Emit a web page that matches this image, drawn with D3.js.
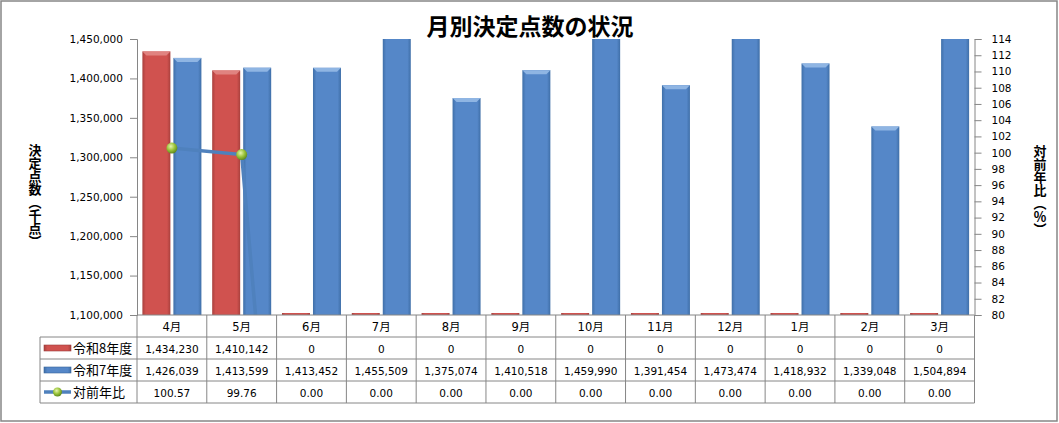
<!DOCTYPE html>
<html>
<head>
<meta charset="utf-8">
<script src="https://cdn.jsdelivr.net/npm/d3@7"></script>
<style>
  body { margin: 0; background: #fff; }
  svg { display: block; }
  text { font-family: "DejaVu Sans", "Noto Sans CJK JP", sans-serif; fill: #000; }
</style>
</head>
<body>
<svg id="chart" width="1059" height="423"></svg>
<script>
// data
const months = ["4月", "5月", "6月", "7月", "8月", "9月", "10月", "11月", "12月", "1月", "2月", "3月"];
const seriesNames = ["令和8年度", "令和7年度", "対前年比"];
const r8Values = [1434230, 1410142, 0, 0, 0, 0, 0, 0, 0, 0, 0, 0];
const r7Values = [1426039, 1413599, 1413452, 1455509, 1375074, 1410518, 1459990, 1391454, 1473474, 1418932, 1339048, 1504894];
const ratioValues = [100.57, 99.76, 0, 0, 0, 0, 0, 0, 0, 0, 0, 0];
const leftTicks = [1100000, 1150000, 1200000, 1250000, 1300000, 1350000, 1400000, 1450000];
const rightTicks = [80, 82, 84, 86, 88, 90, 92, 94, 96, 98, 100, 102, 104, 106, 108, 110, 112, 114];

const redColor = "#c0504d";
const blueColor = "#4f81bd";
const gridColor = "#868686";

function draw_chart() {
    const svg = d3.select("#chart");
    const plot = { left: 137, right: 974.5, top: 39, bottom: 315 };
    const rowH = 22;

    // outer frame
    svg.append("rect")
        .attr("x", 1).attr("y", 1).attr("width", 1056).attr("height", 420)
        .attr("fill", "#fff").attr("stroke", gridColor).attr("stroke-width", 1.5);

    const x = d3.scaleBand().domain(months).range([plot.left, plot.right]);
    const xs = d3.scaleBand().domain(["r8", "r7"]).range([0, x.bandwidth()])
        .paddingInner(0.097).paddingOuter(0.174);
    const yL = d3.scaleLinear().domain([1100000, 1450000]).range([plot.bottom, plot.top]);
    const yR = d3.scaleLinear().domain([80, 114]).range([plot.bottom, plot.top]);

    // gradients for the bevelled bars
    const defs = svg.append("defs");
    function barGradient(id, dark, mid) {
        const g = defs.append("linearGradient").attr("id", id)
            .attr("x1", 0).attr("x2", 1).attr("y1", 0).attr("y2", 0);
        g.append("stop").attr("offset", "0%").attr("stop-color", dark);
        g.append("stop").attr("offset", "12%").attr("stop-color", mid);
        g.append("stop").attr("offset", "88%").attr("stop-color", mid);
        g.append("stop").attr("offset", "100%").attr("stop-color", dark);
    }
    barGradient("grad-r8", "#a8403d", "#d0524f");
    barGradient("grad-r7", "#3f6fa8", "#5587c8");
    const ball = defs.append("radialGradient").attr("id", "ball")
        .attr("cx", "40%").attr("cy", "35%").attr("r", "65%");
    ball.append("stop").attr("offset", "0%").attr("stop-color", "#e6f5b0");
    ball.append("stop").attr("offset", "55%").attr("stop-color", "#9bc43a");
    ball.append("stop").attr("offset", "100%").attr("stop-color", "#5f8a1e");

    defs.append("clipPath").attr("id", "plot-clip")
        .append("rect")
        .attr("x", plot.left).attr("y", plot.top)
        .attr("width", plot.right - plot.left).attr("height", plot.bottom - plot.top);

    // title
    svg.append("text")
        .attr("x", 530).attr("y", 35)
        .attr("text-anchor", "middle")
        .style("font-family", "'Noto Sans CJK JP', sans-serif")
        .style("font-size", "23px").style("font-weight", "bold")
        .text("月別決定点数の状況");

    // bars
    const barData = [];
    months.forEach(function (m, i) {
        barData.push({ m: m, key: "r8", v: r8Values[i] });
        barData.push({ m: m, key: "r7", v: r7Values[i] });
    });
    const bars = svg.append("g").attr("clip-path", "url(#plot-clip)");
    const barGroups = bars.selectAll(".bar").data(barData).enter().append("g").attr("class", "bar");
    const barTop = (d) => Math.min(yL(d.v), plot.bottom - 2);
    barGroups.append("rect")
        .attr("x", (d) => x(d.m) + xs(d.key))
        .attr("y", barTop)
        .attr("width", xs.bandwidth())
        .attr("height", (d) => plot.bottom - barTop(d))
        .attr("fill", (d) => "url(#grad-" + d.key + ")");
    // bevelled top caps
    barGroups.filter((d) => d.v > 1100000).append("path")
        .attr("d", function (d) {
            const x0 = x(d.m) + xs(d.key), x1 = x0 + xs.bandwidth(), t = yL(d.v);
            return d3.line()([[x0, t], [x1, t], [x1 - 4, t + 4], [x0 + 4, t + 4]]) + "Z";
        })
        .attr("fill", (d) => d.key === "r8" ? "#e08380" : "#8fb5e3");

    // ratio line
    const linePts = months.map((m, i) => [x(m) + x.bandwidth() / 2, yR(ratioValues[i])]);
    bars.append("path")
        .attr("d", d3.line()(linePts))
        .attr("fill", "none")
        .attr("stroke", blueColor)
        .attr("stroke-width", 3.5);
    bars.selectAll(".marker").data(linePts).enter().append("circle")
        .attr("class", "marker")
        .attr("cx", (d) => d[0]).attr("cy", (d) => d[1]).attr("r", 5.5)
        .attr("fill", "url(#ball)");

    // left axis
    const leftAxis = svg.append("g")
        .attr("transform", "translate(" + plot.left + ",0)")
        .call(d3.axisLeft(yL).tickValues(leftTicks).tickSize(7).tickPadding(7)
            .tickFormat(d3.format(",")));
    leftAxis.selectAll("text").style("font-size", "10.5px");
    leftAxis.select(".domain").attr("stroke", gridColor);
    leftAxis.selectAll("line").attr("stroke", gridColor);

    // right axis
    const rightAxis = svg.append("g")
        .attr("transform", "translate(" + plot.right + ",0)")
        .call(d3.axisRight(yR).tickValues(rightTicks).tickSize(7).tickPadding(10));
    rightAxis.selectAll("text").style("font-size", "10.5px");
    rightAxis.select(".domain").attr("stroke", gridColor);
    rightAxis.selectAll("line").attr("stroke", gridColor);

    // axis titles (vertical)
    svg.append("text")
        .attr("x", 35).attr("y", 196)
        .attr("text-anchor", "middle")
        .style("writing-mode", "vertical-rl")
        .style("font-family", "'Noto Sans CJK JP', sans-serif")
        .style("font-size", "13px").style("font-weight", "bold")
        .text("決定点数（千点）");
    svg.append("text")
        .attr("x", 1040).attr("y", 190)
        .attr("text-anchor", "middle")
        .style("writing-mode", "vertical-rl")
        .style("font-family", "'Noto Sans CJK JP', sans-serif")
        .style("font-size", "13px").style("font-weight", "bold")
        .text("対前年比（％）");

    // data table
    const table = svg.append("g");
    const tableLeft = 40;
    const line = (x1, y1, x2, y2) => table.append("line")
        .attr("x1", x1).attr("y1", y1).attr("x2", x2).attr("y2", y2)
        .attr("stroke", gridColor).attr("stroke-width", 1);
    line(plot.left, plot.bottom, plot.right, plot.bottom);
    for (let r = 1; r <= 4; r++) {
        line(tableLeft, plot.bottom + r * rowH, plot.right, plot.bottom + r * rowH);
    }
    line(tableLeft, plot.bottom + rowH, tableLeft, plot.bottom + 4 * rowH);
    months.forEach((m) => line(x(m), plot.bottom, x(m), plot.bottom + 4 * rowH));
    line(plot.right, plot.bottom, plot.right, plot.bottom + 4 * rowH);

    table.selectAll(".month-label").data(months).enter().append("text")
        .attr("class", "month-label")
        .attr("x", (d) => x(d) + x.bandwidth() / 2)
        .attr("y", plot.bottom + 16)
        .attr("text-anchor", "middle")
        .style("font-size", "11.5px")
        .text((d) => d);

    const rows = [
        r8Values.map(d3.format(",")),
        r7Values.map(d3.format(",")),
        ratioValues.map(d3.format(".2f"))
    ];
    rows.forEach(function (vals, r) {
        table.selectAll(".row" + r).data(vals).enter().append("text")
            .attr("x", (d, i) => x(months[i]) + x.bandwidth() / 2)
            .attr("y", plot.bottom + (r + 1) * rowH + 15.5)
            .attr("text-anchor", "middle")
            .style("font-size", "10.5px")
            .text((d) => d);

        const cy = plot.bottom + (r + 1.5) * rowH;
        if (r < 2) {
            table.append("rect")
                .attr("x", 44).attr("y", cy - 3).attr("width", 27).attr("height", 6)
                .attr("fill", r === 0 ? "url(#grad-r8)" : "url(#grad-r7)")
                .attr("stroke", r === 0 ? "#9c3f3c" : "#3a679c").attr("stroke-width", 0.6);
        } else {
            table.append("line")
                .attr("x1", 44).attr("x2", 71).attr("y1", cy).attr("y2", cy)
                .attr("stroke", blueColor).attr("stroke-width", 3.5);
            table.append("circle")
                .attr("cx", 57.5).attr("cy", cy).attr("r", 4.5)
                .attr("fill", "url(#ball)");
        }
        table.append("text")
            .attr("x", 73).attr("y", cy + 5)
            .style("font-family", "'Noto Sans CJK JP', sans-serif")
            .style("font-size", "13px")
            .text(seriesNames[r]);
    });
}

draw_chart();
</script>
</body>
</html>
